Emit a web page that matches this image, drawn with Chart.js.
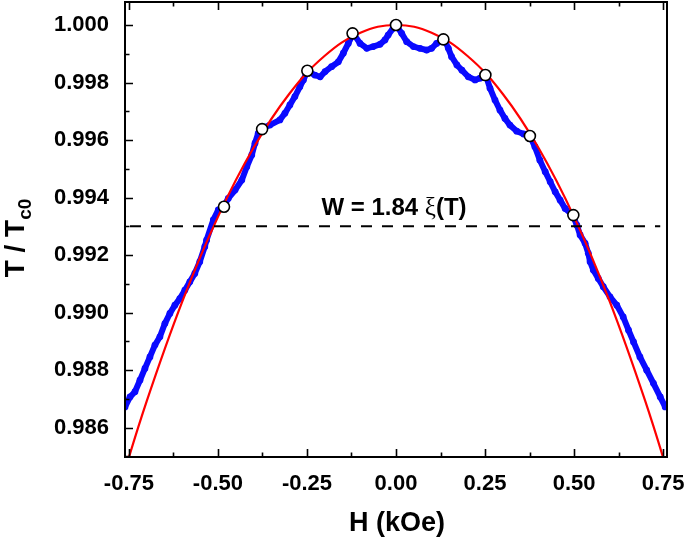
<!DOCTYPE html>
<html>
<head>
<meta charset="utf-8">
<script src="https://cdn.jsdelivr.net/npm/chart.js@4.4.1/dist/chart.umd.min.js"></script>
<style>
  html, body { margin: 0; padding: 0; background: #ffffff; }
  #wrap { width: 685px; height: 540px; }
</style>
</head>
<body>
<div id="wrap"><canvas id="c" width="685" height="540"></canvas></div>
<script>
// ---------- DATA ----------
// Measured T/Tc0 vs H (blue trace)
const blueH = [-0.761,-0.747,-0.733,-0.719,-0.705,-0.691,-0.677,-0.663,-0.649,-0.635,-0.621,-0.607,-0.593,-0.579,-0.565,-0.551,-0.537,-0.532,-0.513,-0.499,-0.485,-0.471,-0.452,-0.433,-0.419,-0.405,-0.396,-0.387,-0.377,-0.354,-0.326,-0.312,-0.298,-0.284,-0.270,-0.260,-0.249,-0.228,-0.213,-0.199,-0.181,-0.162,-0.148,-0.134,-0.120,-0.101,-0.082,-0.064,-0.045,-0.031,-0.022,-0.008,0.000,0.016,0.030,0.049,0.067,0.086,0.100,0.114,0.135,0.147,0.156,0.171,0.185,0.203,0.222,0.236,0.252,0.264,0.278,0.292,0.306,0.320,0.339,0.358,0.376,0.390,0.404,0.419,0.433,0.447,0.461,0.475,0.496,0.508,0.517,0.531,0.540,0.545,0.554,0.568,0.582,0.601,0.620,0.638,0.653,0.667,0.685,0.704,0.723,0.742,0.756];
const blueT = [0.98672,0.98707,0.98725,0.98765,0.98806,0.98846,0.98887,0.98916,0.98962,0.98997,0.99026,0.99049,0.99078,0.99107,0.99136,0.99177,0.99229,0.99252,0.99322,0.99357,0.99368,0.99397,0.99426,0.99461,0.99507,0.99548,0.99589,0.99623,0.99641,0.99652,0.99670,0.99693,0.99722,0.99751,0.99785,0.99809,0.99840,0.99826,0.99820,0.99838,0.99855,0.99872,0.99902,0.99936,0.99971,0.99936,0.99919,0.99925,0.99933,0.99948,0.99965,0.99989,1.00000,0.99971,0.99942,0.99925,0.99919,0.99913,0.99919,0.99936,0.99951,0.99919,0.99890,0.99861,0.99843,0.99820,0.99809,0.99815,0.99826,0.99780,0.99739,0.99704,0.99675,0.99652,0.99631,0.99621,0.99614,0.99577,0.99530,0.99490,0.99455,0.99420,0.99391,0.99362,0.99339,0.99304,0.99270,0.99241,0.99206,0.99177,0.99148,0.99119,0.99090,0.99055,0.99026,0.98985,0.98939,0.98898,0.98846,0.98800,0.98754,0.98707,0.98672];

// Red fitted curve (read at regular H values)
const redH = [-0.78,-0.70,-0.60,-0.50,-0.40,-0.30,-0.20,-0.10,0.00,0.10,0.20,0.30,0.40,0.50,0.60,0.70,0.78];
const redT = [0.98376,0.98692,0.99039,0.99333,0.99573,0.99760,0.99893,0.99973,1.00000,0.99973,0.99893,0.99760,0.99573,0.99333,0.99039,0.98692,0.98376];

// White open circles
const circH = [-0.483,-0.376,-0.249,-0.122,0.000,0.133,0.251,0.376,0.498];
const circT = [0.99368,0.99638,0.99841,0.99971,1.00000,0.99950,0.99826,0.99614,0.99339];

// Dashed reference line
const dashH = [-0.747, 0.742];
const dashT = [0.993, 0.993];

// Axis ticks
const xTicks = [-0.75,-0.50,-0.25,0.00,0.25,0.50,0.75];
const xMinor = [-0.625,-0.375,-0.125,0.125,0.375,0.625];
const yTicks = [0.986,0.988,0.990,0.992,0.994,0.996,0.998,1.000];
const yMinor = [0.985,0.987,0.989,0.991,0.993,0.995,0.997,0.999];

const xTitle = 'H (kOe)';
const yTitleMain = 'T / T';
const yTitleSub = 'c0';
const annMain = 'W = 1.84 ';
const annXi = '\u03BE';
const annEnd = '(T)';

const toXY = (xs, ys) => xs.map((x, i) => ({x: x, y: ys[i]}));
const SANS = '"Liberation Sans", Arial, sans-serif';

const frameTicks = {
  id: 'frameTicks',
  afterDraw(chart) {
    const ctx = chart.ctx, a = chart.chartArea;
    const xs = chart.scales.x, ys = chart.scales.y;
    ctx.save();
    ctx.strokeStyle = '#000';
    ctx.lineWidth = 2;
    ctx.strokeRect(a.left, a.top, a.right - a.left, a.bottom - a.top);
    ctx.lineWidth = 1.6;
    ctx.beginPath();
    xTicks.forEach(v => { const p = Math.round(xs.getPixelForValue(v)) + 0.5;
      ctx.moveTo(p, a.bottom); ctx.lineTo(p, a.bottom - 8);
      ctx.moveTo(p, a.top); ctx.lineTo(p, a.top + 8); });
    xMinor.forEach(v => { const p = Math.round(xs.getPixelForValue(v)) + 0.5;
      ctx.moveTo(p, a.bottom); ctx.lineTo(p, a.bottom - 4.5);
      ctx.moveTo(p, a.top); ctx.lineTo(p, a.top + 4.5); });
    yTicks.forEach(v => { const p = Math.round(ys.getPixelForValue(v)) + 0.5;
      ctx.moveTo(a.left, p); ctx.lineTo(a.left + 8, p); });
    yMinor.forEach(v => { const p = Math.round(ys.getPixelForValue(v)) + 0.5;
      ctx.moveTo(a.left, p); ctx.lineTo(a.left + 4.5, p); });
    ctx.stroke();

    // axis titles
    ctx.fillStyle = '#000';
    ctx.textBaseline = 'alphabetic';
    ctx.font = 'bold 27px ' + SANS;
    ctx.textAlign = 'center';
    ctx.fillText(xTitle, (a.left + a.right) / 2 + 1, 531);

    ctx.save();
    ctx.translate(24, 238);
    ctx.rotate(-Math.PI / 2);
    ctx.font = 'bold 28px ' + SANS;
    const w1 = ctx.measureText(yTitleMain).width;
    ctx.font = 'bold 19px ' + SANS;
    const w2 = ctx.measureText(yTitleSub).width;
    const start = -(w1 + w2) / 2;
    ctx.textAlign = 'left';
    ctx.font = 'bold 28px ' + SANS;
    ctx.fillText(yTitleMain, start, 0);
    ctx.font = 'bold 19px ' + SANS;
    ctx.fillText(yTitleSub, start + w1, 7);
    ctx.restore();

    // annotation
    ctx.font = 'bold 24px ' + SANS;
    const m1 = ctx.measureText(annMain).width;
    ctx.font = '25px "Liberation Serif", "Times New Roman", serif';
    const m2 = ctx.measureText(annXi).width;
    ctx.font = 'bold 24px ' + SANS;
    const m3 = ctx.measureText(annEnd).width;
    const cx = xs.getPixelForValue(0) - 2;
    const by = 215;
    let sx = cx - (m1 + m2 + m3) / 2;
    ctx.textAlign = 'left';
    ctx.fillText(annMain, sx, by);
    ctx.font = '25px "Liberation Serif", "Times New Roman", serif';
    ctx.fillText(annXi, sx + m1, by);
    ctx.font = 'bold 24px ' + SANS;
    ctx.fillText(annEnd, sx + m1 + m2, by);
    ctx.restore();
  }
};

new Chart(document.getElementById('c'), {
  type: 'scatter',
  data: {
    datasets: [
      { label: 'circles', data: toXY(circH, circT), order: 0, showLine: false,
        pointRadius: 5.5, pointBackgroundColor: '#ffffff', pointBorderColor: '#000000', pointBorderWidth: 1.6 },
      { label: 'dash', data: toXY(dashH, dashT), order: 1, showLine: true, pointRadius: 0,
        borderColor: '#000000', borderWidth: 2, borderDash: [11, 10] },
      { label: 'fit', data: toXY(redH, redT), order: 2, showLine: true, pointRadius: 0,
        borderColor: '#ff0000', borderWidth: 2.2, tension: 0.4 },
      { label: 'data', data: toXY(blueH, blueT), order: 3, showLine: true,
        borderColor: '#0a0aff', borderWidth: 6, pointRadius: 3.4,
        pointBackgroundColor: '#0a0aff', pointBorderWidth: 0, tension: 0 }
    ]
  },
  options: {
    responsive: false,
    animation: false,
    events: [],
    layout: { autoPadding: false, padding: { left: 0, right: 18, top: 2, bottom: 0 } },
    plugins: { legend: { display: false }, tooltip: { enabled: false } },
    scales: {
      x: {
        type: 'linear', min: -0.761, max: 0.761,
        afterBuildTicks: s => { s.ticks = xTicks.map(v => ({value: v})); },
        afterFit: s => { s.height = 83; s.paddingLeft = 0; s.paddingRight = 0; },
        grid: { display: false, drawTicks: false },
        border: { display: false },
        ticks: { padding: 14, color: '#000', font: { family: SANS, size: 22, weight: 'bold' },
                 callback: v => Number(v).toFixed(2), maxRotation: 0, autoSkip: false }
      },
      y: {
        type: 'linear', min: 0.98498, max: 1.0008,
        afterBuildTicks: s => { s.ticks = yTicks.map(v => ({value: v})); },
        afterFit: s => { s.width = 125; s.paddingTop = 0; s.paddingBottom = 0; },
        grid: { display: false, drawTicks: false },
        border: { display: false },
        ticks: { padding: 16, color: '#000', font: { family: SANS, size: 22, weight: 'bold' },
                 callback: v => Number(v).toFixed(3), autoSkip: false }
      }
    }
  },
  plugins: [frameTicks]
});
</script>
</body>
</html>
